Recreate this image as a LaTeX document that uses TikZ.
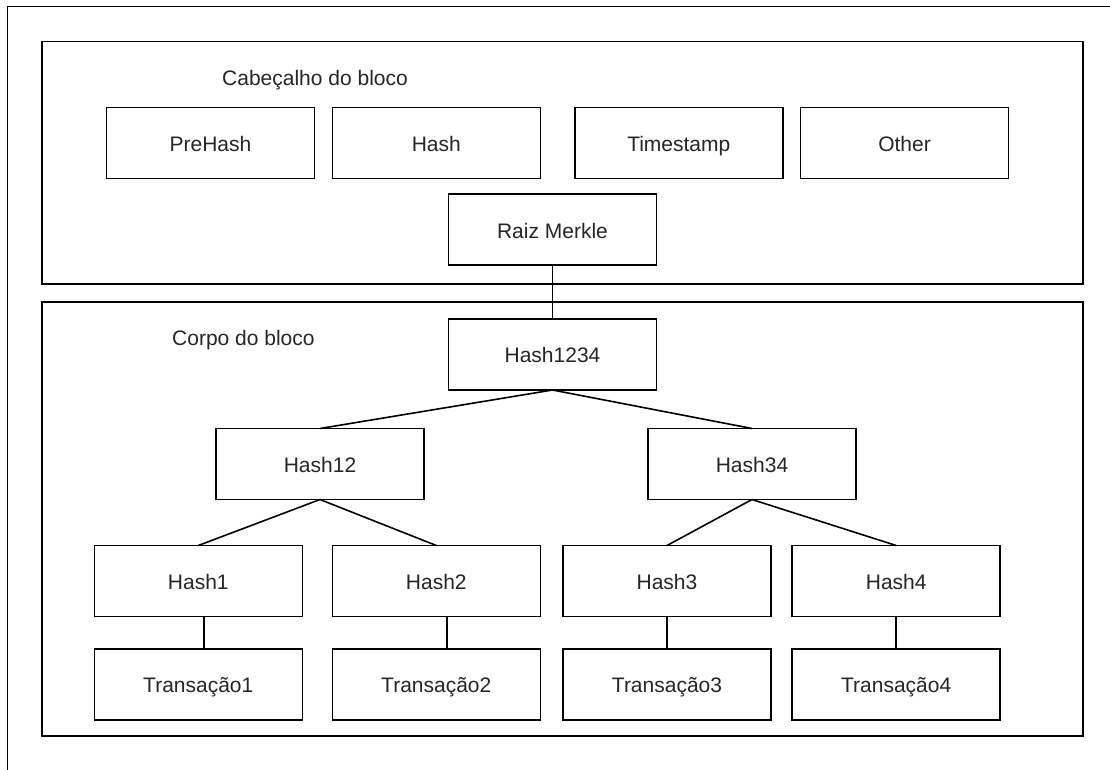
\documentclass[tikz,border=0pt]{standalone}
\usepackage{fontspec}
\setmainfont{Liberation Sans}
\begin{document}
\begin{tikzpicture}[x=1pt,y=-1pt,
  box/.style={draw, line width=1.6pt, minimum width=208pt, minimum height=71pt,
    inner sep=0pt, outer sep=0pt, text height=16.6pt, text depth=0pt,
    text=black!85, font=\fontsize{21}{25}\selectfont},
  frame/.style={draw, line width=1.6pt, inner sep=0pt, outer sep=0pt},
  title/.style={anchor=west, inner sep=0pt, text height=16.6pt, text depth=0pt,
    text=black!85, font=\fontsize{21}{25}\selectfont},
  wire/.style={line width=1.6pt}]
  \useasboundingbox (0,0) rectangle (1110,769);
  \clip (0,0) rectangle (1110,769);
  \fill[white] (0,0) rectangle (1110,769);

  % outer page frame, running off the right and bottom
  \draw[wire] (7.5,800) -- (7.5,6.5) -- (1200,6.5);

  % containers
  \node[frame, minimum width=1041pt, minimum height=242.5pt] (header) at (562.5,162.75) {};
  \node[frame, minimum width=1041pt, minimum height=434pt] (body) at (562.5,519) {};
  \node[title] (headerlbl) at (222,77) {Cabeçalho do bloco};
  \node[title] (bodylbl) at (172,337) {Corpo do bloco};

  % block header fields
  \node[box] (prehash) at (210.5,143) {PreHash};
  \node[box] (hash) at (436.3,143) {Hash};
  \node[box] (timestamp) at (678.8,143) {Timestamp};
  \node[box] (other) at (904.5,143) {Other};
  \node[box] (raiz) at (552.5,229.7) {Raiz Merkle};

  % merkle tree
  \node[box] (h1234) at (552.5,354.5) {Hash1234};
  \node[box] (h12) at (320,464) {Hash12};
  \node[box] (h34) at (752,464) {Hash34};
  \node[box] (h1) at (198.3,581) {Hash1};
  \node[box] (h2) at (436.3,581) {Hash2};
  \node[box] (h3) at (667,581) {Hash3};
  \node[box] (h4) at (896.2,581) {Hash4};
  \node[box] (t1) at (198.3,684.5) {Transação1};
  \node[box] (t2) at (436.3,684.5) {Transação2};
  \node[box] (t3) at (667,684.5) {Transação3};
  \node[box] (t4) at (896.2,684.5) {Transação4};

  \draw[wire] (raiz.south) -- (h1234.north);
  \draw[wire] (h1234.south) -- (h12.north);
  \draw[wire] (h1234.south) -- (h34.north);
  \draw[wire] (h12.south) -- (h1.north);
  \draw[wire] (h12.south) -- (h2.north);
  \draw[wire] (h34.south) -- (h3.north);
  \draw[wire] (h34.south) -- (h4.north);
  \draw[wire] ([xshift=5.7pt]h1.south) -- ([xshift=5.7pt]t1.north);
  \draw[wire] ([xshift=10.4pt]h2.south) -- ([xshift=10.4pt]t2.north);
  \draw[wire] (h3.south) -- (t3.north);
  \draw[wire] (h4.south) -- (t4.north);
\end{tikzpicture}
\end{document}
